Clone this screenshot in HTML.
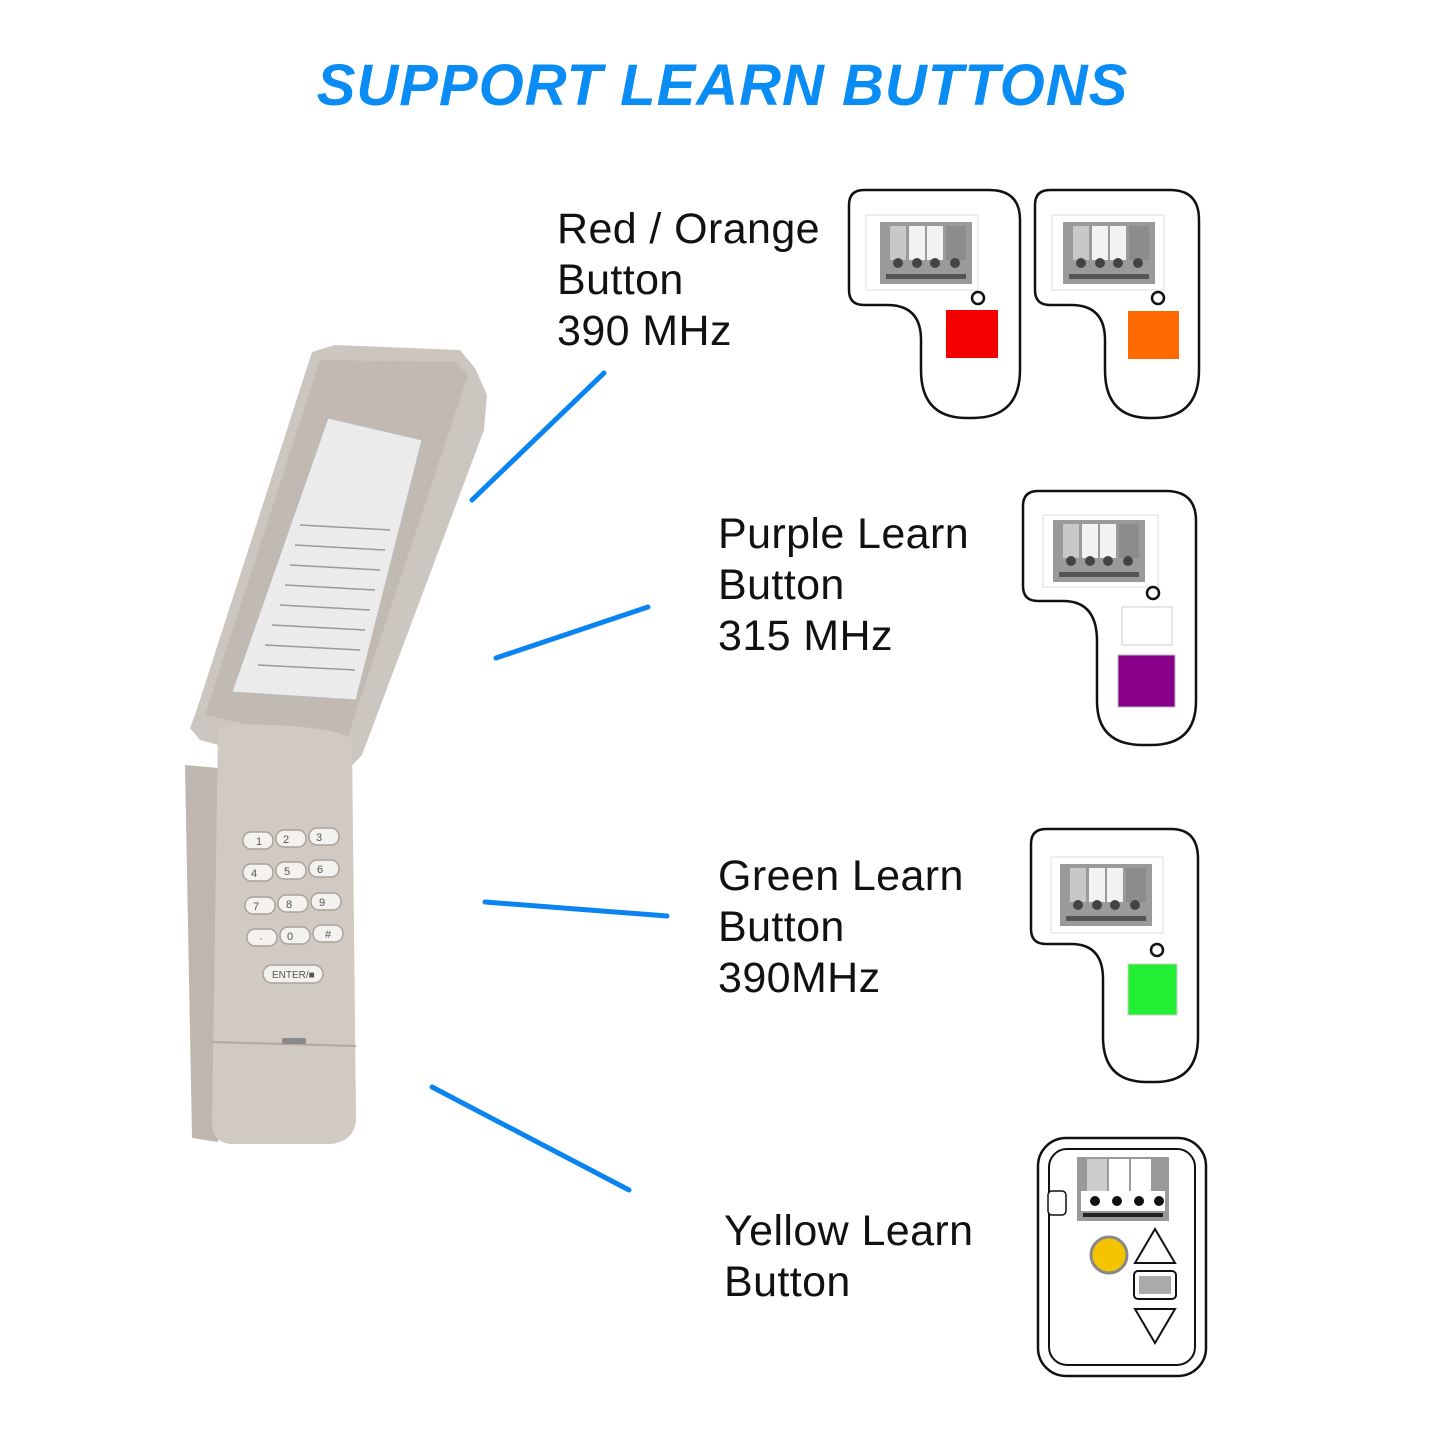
<!DOCTYPE html>
<html><head><meta charset="utf-8"><style>
html,body{margin:0;padding:0;background:#fff;}
body{width:1445px;height:1445px;position:relative;overflow:hidden;font-family:"Liberation Sans",Arial,sans-serif;}
.t{position:absolute;font-size:43px;line-height:51px;color:#111;letter-spacing:0.4px;}
h1{position:absolute;left:0;width:1445px;top:52px;margin:0;text-align:center;font-size:58px;font-style:italic;font-weight:bold;color:#0a8cf5;letter-spacing:1px;}
</style></head><body>
<h1>SUPPORT LEARN BUTTONS</h1>
<div class="t" style="left:557px;top:204px">Red / Orange<br>Button<br>390 MHz</div>
<div class="t" style="left:718px;top:509px">Purple Learn<br>Button<br>315 MHz</div>
<div class="t" style="left:718px;top:851px">Green Learn<br>Button<br>390MHz</div>
<div class="t" style="left:724px;top:1206px">Yellow Learn<br>Button</div>
<svg width="1445" height="1445" style="position:absolute;left:0;top:0">
<defs>
<g id="tb">
<rect x="0" y="0" width="92" height="62" fill="#9a9a9a"/>
<rect x="10" y="4" width="16" height="34" fill="#c8c8c8"/>
<rect x="29" y="4" width="16" height="34" fill="#f2f2f2"/>
<rect x="47" y="4" width="16" height="34" fill="#f2f2f2"/>
<rect x="66" y="4" width="20" height="34" fill="#8c8c8c"/>
<circle cx="18" cy="41" r="5" fill="#444"/><circle cx="37" cy="41" r="5" fill="#444"/><circle cx="55" cy="41" r="5" fill="#444"/><circle cx="75" cy="41" r="5" fill="#444"/>
<rect x="6" y="52" width="80" height="5" fill="#555"/>
</g>
</defs>
<g stroke="#0a84f0" stroke-width="5" stroke-linecap="round">
<line x1="604" y1="373" x2="472" y2="500"/>
<line x1="648" y1="607" x2="496" y2="658"/>
<line x1="485" y1="902" x2="667" y2="916"/>
<line x1="432" y1="1087" x2="629" y2="1190"/>
</g>
<g transform="translate(849,190)">
<path d="M15,0 H140 Q171,0 171,30 V180 Q171,228 123,228 H118 Q72,228 72,180 V150 Q72,115 38,115 H15 Q0,115 0,100 V15 Q0,0 15,0 Z" fill="#fff" stroke="#111" stroke-width="2.5"/>
<rect x="17" y="25" width="112" height="75" fill="none" stroke="#ddd"/>
<g transform="translate(31,32)"><use href="#tb"/></g>
<circle cx="129" cy="108" r="6" fill="#fff" stroke="#111" stroke-width="2.5"/>
<rect x="97" y="120" width="52" height="48" fill="#f50000"/>
</g>
<g transform="translate(1035,190)">
<path d="M15,0 H135 Q164,0 164,30 V180 Q164,228 118,228 H115 Q70,228 70,180 V150 Q70,115 36,115 H15 Q0,115 0,100 V15 Q0,0 15,0 Z" fill="#fff" stroke="#111" stroke-width="2.5"/>
<rect x="17" y="25" width="112" height="75" fill="none" stroke="#ddd"/>
<g transform="translate(28,32)"><use href="#tb"/></g>
<circle cx="123" cy="108" r="6" fill="#fff" stroke="#111" stroke-width="2.5"/>
<rect x="93" y="121" width="51" height="48" fill="#ff6a00"/>
</g>
<g transform="translate(1023,491)">
<path d="M15,0 H143 Q173,0 173,30 V210 Q173,254 128,254 H120 Q74,254 74,210 V150 Q74,110 40,110 H15 Q0,110 0,95 V15 Q0,0 15,0 Z" fill="#fff" stroke="#111" stroke-width="2.5"/>
<rect x="20" y="24" width="115" height="72" fill="none" stroke="#ddd"/>
<g transform="translate(30,29)"><use href="#tb"/></g>
<circle cx="130" cy="102" r="6" fill="#fff" stroke="#111" stroke-width="2.5"/>
<rect x="99" y="116" width="50" height="38" fill="#fff" stroke="#ccc"/>
<rect x="95" y="164" width="57" height="52" fill="#880088" stroke="#bbb"/>
</g>
<g transform="translate(1031,829)">
<path d="M15,0 H140 Q167,0 167,30 V208 Q167,253 124,253 H116 Q72,253 72,208 V150 Q72,115 40,115 H15 Q0,115 0,100 V15 Q0,0 15,0 Z" fill="#fff" stroke="#111" stroke-width="2.5"/>
<rect x="20" y="28" width="112" height="76" fill="none" stroke="#ddd"/>
<g transform="translate(29,35)"><use href="#tb"/></g>
<circle cx="126" cy="121" r="6" fill="#fff" stroke="#111" stroke-width="2.5"/>
<rect x="97" y="135" width="49" height="51" fill="#22ee33" stroke="#ccc"/>
</g>
<g transform="translate(1037,1137)">
<rect x="1" y="1" width="168" height="238" rx="28" fill="#fff" stroke="#111" stroke-width="2.5"/>
<rect x="12" y="12" width="146" height="216" rx="18" fill="none" stroke="#111" stroke-width="2"/>
<g transform="translate(40,20)">
<rect x="0" y="0" width="92" height="64" fill="#999"/>
<rect x="10" y="2" width="20" height="38" fill="#ccc"/><rect x="32" y="2" width="20" height="38" fill="#fff"/><rect x="54" y="2" width="20" height="38" fill="#fff"/>
<rect x="4" y="34" width="84" height="20" fill="#fff"/>
<circle cx="18" cy="44" r="5" fill="#111"/><circle cx="40" cy="44" r="5" fill="#111"/><circle cx="62" cy="44" r="5" fill="#111"/><circle cx="82" cy="44" r="5" fill="#111"/>
<rect x="6" y="56" width="80" height="4" fill="#222"/>
</g>
<rect x="11" y="54" width="18" height="24" rx="4" fill="#fff" stroke="#111" stroke-width="1.5"/>
<circle cx="72" cy="118" r="18" fill="#f4c400" stroke="#888" stroke-width="3"/>
<path d="M118,92 L138,126 H98 Z" fill="#fff" stroke="#111" stroke-width="2"/>
<rect x="97" y="134" width="42" height="28" rx="4" fill="#fff" stroke="#111" stroke-width="2"/>
<rect x="102" y="139" width="32" height="18" fill="#aaa"/>
<path d="M98,172 H138 L118,206 Z" fill="#fff" stroke="#111" stroke-width="2"/>
</g>
<polygon points="312,352 335,345 460,350 475,368 487,395 484,430 362,755 340,778 200,740 190,728 196,712" fill="#cbc6bf"/>
<polygon points="320,360 455,362 468,375 345,745 205,715" fill="#c0bab2"/>
<polygon points="328,418 422,440 356,700 232,692" fill="#ebebeb" stroke="#bbb"/>
<g stroke="#999" stroke-width="1.5">
<line x1="300" y1="525" x2="390" y2="530"/><line x1="295" y1="545" x2="385" y2="550"/><line x1="290" y1="565" x2="380" y2="570"/><line x1="285" y1="585" x2="375" y2="590"/><line x1="280" y1="605" x2="370" y2="610"/><line x1="272" y1="625" x2="365" y2="630"/><line x1="265" y1="645" x2="360" y2="650"/><line x1="258" y1="665" x2="355" y2="670"/>
</g>
<polygon points="185,765 218,768 218,1142 192,1138" fill="#bdb7af"/>
<path d="M218,730 Q225,722 290,726 Q345,730 352,740 L356,1120 Q354,1142 330,1144 H230 Q212,1142 212,1122 Z" fill="#d0cac3"/>
<line x1="212" y1="1042" x2="356" y2="1046" stroke="#b0aaa2" stroke-width="2"/>
<rect x="282" y="1038" width="24" height="6" rx="2" fill="#888"/>
<g fill="#f4f2ee" stroke="#a8a29a" stroke-width="1.5">
<rect x="243" y="832" width="30" height="17" rx="8"/><rect x="276" y="830" width="30" height="17" rx="8"/><rect x="309" y="828" width="30" height="17" rx="8"/>
<rect x="243" y="864" width="30" height="17" rx="8"/><rect x="276" y="862" width="30" height="17" rx="8"/><rect x="309" y="860" width="30" height="17" rx="8"/>
<rect x="245" y="897" width="30" height="17" rx="8"/><rect x="278" y="895" width="30" height="17" rx="8"/><rect x="311" y="893" width="30" height="17" rx="8"/>
<rect x="247" y="929" width="30" height="17" rx="8"/><rect x="280" y="927" width="30" height="17" rx="8"/><rect x="313" y="925" width="30" height="17" rx="8"/>
<rect x="263" y="965" width="60" height="18" rx="9"/>
</g>
<g fill="#555" font-size="11" font-family="Liberation Sans, sans-serif" stroke="none">
<text x="256" y="845">1</text><text x="283" y="843">2</text><text x="316" y="841">3</text>
<text x="251" y="877">4</text><text x="284" y="875">5</text><text x="317" y="873">6</text>
<text x="253" y="910">7</text><text x="286" y="908">8</text><text x="319" y="906">9</text>
<text x="259" y="942">·</text><text x="287" y="940">0</text><text x="325" y="938">#</text>
<text x="272" y="978" font-size="10">ENTER/■</text>
</g>
</svg>
</body></html>
